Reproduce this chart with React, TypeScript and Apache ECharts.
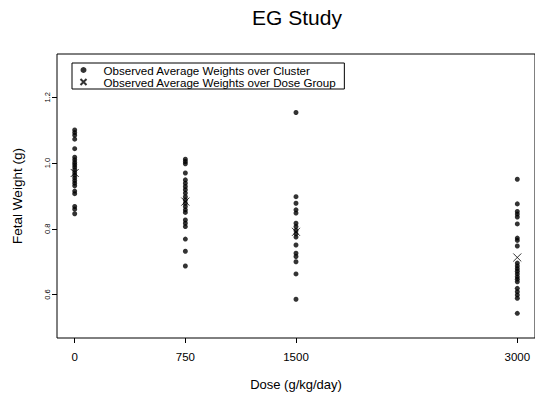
import React, { useEffect, useRef } from 'react';
import * as echarts from 'echarts';

const doses = [0, 750, 1500, 3000];
const yTicks = [0.6, 0.8, 1.0, 1.2];

const weightsDose0 = [1.101, 1.093, 1.085, 1.073, 1.044, 1.018, 1.010, 1.002, 0.995, 0.988, 0.980, 0.971, 0.963, 0.955, 0.947, 0.939, 0.931, 0.915, 0.907, 0.868, 0.860, 0.846];
const weightsDose750 = [1.012, 1.005, 0.998, 0.970, 0.949, 0.939, 0.929, 0.919, 0.909, 0.898, 0.888, 0.878, 0.868, 0.858, 0.850, 0.827, 0.817, 0.807, 0.769, 0.732, 0.687];
const weightsDose1500 = [1.154, 0.898, 0.878, 0.858, 0.848, 0.817, 0.807, 0.795, 0.785, 0.775, 0.751, 0.726, 0.716, 0.700, 0.663, 0.586];
const weightsDose3000 = [0.951, 0.876, 0.853, 0.845, 0.836, 0.815, 0.772, 0.765, 0.748, 0.696, 0.687, 0.679, 0.671, 0.663, 0.654, 0.647, 0.639, 0.619, 0.609, 0.599, 0.589, 0.543];
const groupMeans = [0.970, 0.883, 0.791, 0.713];

const clusterName = 'Observed Average Weights over Cluster';
const groupName = 'Observed Average Weights over Dose Group';

const crossPath = 'path://M0,0L10,10M10,0L0,10';

export default function App() {
  const ref = useRef<HTMLDivElement>(null);
  useEffect(() => {
    const chart = echarts.init(ref.current as HTMLDivElement, null, { renderer: 'svg' });
    const font = '"Liberation Sans", Arial, sans-serif';
    const all = [weightsDose0, weightsDose750, weightsDose1500, weightsDose3000];
    const cluster: number[][] = [];
    all.forEach((arr, i) => arr.forEach((v) => cluster.push([doses[i], v])));
    const group = groupMeans.map((v, i) => [doses[i], v]);
    chart.setOption({
      animation: false,
      backgroundColor: '#fff',
      textStyle: { fontFamily: font, color: '#000' },
      title: {
        text: 'EG Study',
        left: 252,
        top: 7,
        padding: 0,
        textStyle: { fontSize: 21, fontWeight: 'normal', color: '#000', fontFamily: font },
      },
      legend: {
        orient: 'vertical',
        left: 72,
        top: 63,
        padding: [1, 8, 1, 6],
        itemGap: 0,
        itemWidth: 22,
        itemHeight: 6,
        borderColor: '#000',
        borderWidth: 1,
        borderRadius: 0,
        textStyle: { fontSize: 11.6, color: '#000', fontFamily: font, lineHeight: 12, padding: [0, 0, 0, 4] },
        data: [
          { name: clusterName, icon: 'circle' },
          { name: groupName, icon: crossPath },
        ],
      },
      grid: { left: 57, top: 54, width: 480, height: 284, show: true, borderColor: '#000', borderWidth: 1 },
      xAxis: {
        type: 'value',
        min: -120,
        max: 3120,
        name: 'Dose (g/kg/day)',
        nameLocation: 'middle',
        nameGap: 40,
        nameTextStyle: { fontSize: 13, color: '#000', fontFamily: font },
        axisLine: { show: false, onZero: false },
        splitLine: { show: false },
        axisTick: { show: true, length: 5, customValues: doses, lineStyle: { color: '#000' } },
        axisLabel: {
          customValues: doses,
          fontSize: 11.5,
          color: '#000',
          margin: 13,
          fontFamily: font,
          formatter: (v: number) => String(v),
        },
      },
      yAxis: {
        type: 'value',
        min: 0.468,
        max: 1.332,
        name: 'Fetal Weight (g)',
        nameLocation: 'middle',
        nameGap: 33,
        nameRotate: 90,
        nameTextStyle: { fontSize: 13.5, color: '#000', fontFamily: font },
        axisLine: { show: false, onZero: false },
        splitLine: { show: false },
        axisTick: { show: true, length: 5, customValues: yTicks, lineStyle: { color: '#000' } },
        axisLabel: {
          customValues: yTicks,
          rotate: 90,
          fontSize: 7.5,
          color: '#000',
          margin: 6,
          fontFamily: font,
          formatter: (v: number) => v.toFixed(1),
        },
      },
      series: [
        {
          type: 'scatter',
          name: clusterName,
          data: cluster,
          symbol: 'circle',
          symbolSize: 5,
          itemStyle: { color: '#000' },
        },
        {
          type: 'scatter',
          name: groupName,
          data: group,
          symbol: crossPath,
          symbolSize: 8,
          z: 3,
          itemStyle: { color: 'none', borderColor: '#000', borderWidth: 1 },
        },
      ],
    });
    return () => chart.dispose();
  }, []);
  return (
    <div
      ref={ref}
      style={{ position: 'fixed', left: 0, top: 0, width: 535, height: 400, background: '#fff' }}
    />
  );
}
